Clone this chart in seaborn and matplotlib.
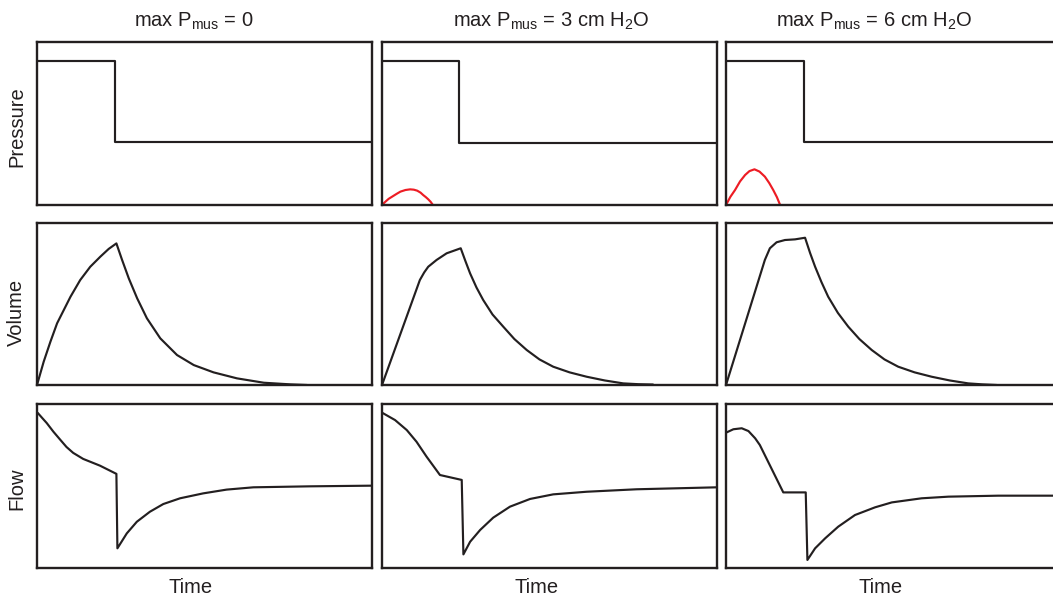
import numpy as np
import pandas as pd
import matplotlib
matplotlib.use("Agg")
import matplotlib.pyplot as plt
import seaborn as sns

sns.set_theme(style="white")
plt.rcParams['font.family'] = ['Liberation Sans', 'DejaVu Sans']
plt.rcParams['mathtext.fontset'] = 'custom'
plt.rcParams['mathtext.rm'] = 'Liberation Sans'
plt.rcParams['mathtext.it'] = 'Liberation Sans:italic'

INK = "#231f20"
RED = "#ed1c24"

col_titles = [r"max P$_{\mathrm{mus}}$ = 0",
              r"max P$_{\mathrm{mus}}$ = 3 cm H$_{\mathrm{2}}$O",
              r"max P$_{\mathrm{mus}}$ = 6 cm H$_{\mathrm{2}}$O"]
row_labels = ["Pressure", "Volume", "Flow"]
x_label = "Time"

# ---- Pressure (airway) ----
p1_t = [0, 23.3, 23.3, 100]
p1_v = [88.1, 88.1, 38.9, 38.9]
p2_t = [0, 23.1, 23.1, 100]
p2_v = [88.1, 88.1, 38.3, 38.3]
p3_t = [0, 23.4, 23.4, 100]
p3_v = [88.1, 88.1, 38.9, 38.9]

# ---- Muscle pressure (red) ----
m2_t = [0, 1.0, 2.0, 3.4, 4.5, 5.5, 7.0, 8.4, 9.5, 10.5, 11.5, 12.3, 13.1, 13.8, 14.5, 15.1]
m2_v = [0, 2.0, 3.8, 5.6, 7.0, 8.2, 9.2, 9.6, 9.4, 8.8, 7.6, 6.1, 4.8, 3.5, 2.0, 0.3]
m3_t = [0, 1.3, 2.7, 4.2, 5.7, 7.0, 8.5, 10.0, 11.6, 12.9, 14.1, 15.2, 16.1]
m3_v = [0, 5.0, 9.2, 14.5, 18.4, 20.8, 21.9, 20.5, 17.4, 13.5, 9.2, 4.8, 0.3]

# ---- Volume ----
v1_t = [0, 2.0, 4.0, 6.0, 8.0, 10.0, 12.9, 15.9, 18.9, 21.4, 23.7,
        25.4, 27.4, 29.9, 32.8, 36.8, 41.8, 46.8, 52.7, 59.7, 67.7, 75.6, 80.6]
v1_v = [0, 14.4, 26.7, 38.1, 46.3, 54.5, 64.8, 73.0, 79.2, 84.0, 87.4,
        77.2, 65.8, 53.5, 41.2, 28.8, 18.5, 12.3, 7.8, 4.1, 1.4, 0.4, 0.0]
v2_t = [0, 11.3, 12.6, 13.8, 16.3, 19.3, 23.5,
        24.9, 26.3, 28.2, 30.2, 33.0, 36.2, 39.5, 43.2, 47.0, 51.1, 56.0, 61.1, 66.5, 72.0, 76.5, 80.9]
v2_v = [0, 64.8, 69.5, 73.0, 77.2, 81.3, 84.4,
        76.5, 68.9, 60.2, 52.5, 43.5, 36.0, 28.4, 21.6, 15.8, 11.3, 7.8, 5.1, 2.8, 1.0, 0.5, 0.3]
v3_t = [0, 11.6, 13.1, 15.1, 17.6, 20.6, 23.6,
        25.1, 26.6, 28.5, 30.5, 33.4, 36.5, 39.8, 43.5, 47.3, 51.4, 56.3, 61.4, 66.8, 72.3, 76.5, 80.8]
v3_v = [0, 77.2, 84.4, 88.1, 89.5, 89.9, 90.9,
        81.5, 73.0, 63.5, 54.5, 44.5, 36.0, 28.4, 21.6, 15.8, 11.3, 7.8, 5.1, 2.8, 1.0, 0.4, 0.0]

# ---- Flow ----
f1_t = [0.2, 1.5, 2.9, 4.9, 6.9, 8.8, 10.8, 13.8, 18.8, 23.7, 24.0,
        26.8, 29.8, 33.7, 37.7, 42.7, 49.6, 56.6, 64.6, 81.5, 100]
f1_v = [94.6, 91.6, 88.4, 83.1, 78.3, 73.8, 70.2, 66.5, 62.4, 57.4, 12.0,
        21.1, 28.2, 34.3, 39.0, 42.5, 45.5, 47.8, 49.2, 49.8, 50.2]
f2_t = [0.2, 3.9, 7.4, 10.3, 13.3, 17.3, 23.8, 24.3,
        26.3, 29.3, 33.2, 38.2, 44.2, 51.1, 61.1, 76.0, 100]
f2_v = [94.5, 90.2, 84.1, 77.0, 67.9, 56.7, 53.7, 8.3,
        16.0, 23.2, 30.7, 37.4, 42.1, 44.9, 46.5, 48.0, 49.2]
f3_t = [0.2, 2.2, 4.7, 6.7, 8.7, 10.1, 17.1, 23.8, 24.3,
        26.6, 29.6, 33.5, 38.5, 44.5, 49.5, 58.4, 66.4, 81.3, 100]
f3_v = [82.7, 84.6, 85.2, 83.5, 79.1, 75.0, 46.1, 46.1, 4.9,
        12.0, 18.1, 25.2, 32.3, 37.0, 40.0, 42.5, 43.5, 44.1, 44.1]

black_series = [
    [(p1_t, p1_v), (v1_t, v1_v), (f1_t, f1_v)],
    [(p2_t, p2_v), (v2_t, v2_v), (f2_t, f2_v)],
    [(p3_t, p3_v), (v3_t, v3_v), (f3_t, f3_v)],
]
red_series = [None, (m2_t, m2_v), (m3_t, m3_v)]

W, H = 1053, 597
fig = plt.figure(figsize=(W / 100, H / 100), dpi=100)

col_left = [37, 382, 726]
col_w = 335
row_top = [42, 223, 404]
row_bot = [205, 385, 568]
title_x = [0.469, 0.504, 0.442]
time_x = [0.457, 0.460, 0.460]
ylab_y = [0.479, 0.447, 0.482]

for c in range(3):
    for r in range(3):
        ax = fig.add_axes([col_left[c] / W, 1 - row_bot[r] / H,
                           col_w / W, (row_bot[r] - row_top[r]) / H])
        t, v = black_series[c][r]
        sns.lineplot(x=t, y=v, ax=ax, color=INK, linewidth=1.55,
                     sort=False, estimator=None)
        if r == 0 and red_series[c] is not None:
            rt, rv = red_series[c]
            sns.lineplot(x=rt, y=rv, ax=ax, color=RED, linewidth=1.55,
                         sort=False, estimator=None)
        ax.set_xlim(0, 100)
        ax.set_ylim(0, 100)
        ax.set_xticks([])
        ax.set_yticks([])
        for s in ax.spines.values():
            s.set_visible(True)
            s.set_color(INK)
            s.set_linewidth(1.7)
        if r == 2:
            ax.set_xlabel(x_label, fontsize=14.5, color=INK, labelpad=7)
            ax.xaxis.label.set_x(time_x[c])
        else:
            ax.set_xlabel("")
        if c == 0:
            ax.set_ylabel(row_labels[r], fontsize=14.5, color=INK, labelpad=8)
            ax.yaxis.label.set_y(ylab_y[r])
        else:
            ax.set_ylabel("")
        if r == 0:
            ax.set_title(col_titles[c], fontsize=14.5, color=INK, pad=11)
            ax.title.set_x(title_x[c])

fig.savefig("out.png", dpi=100)
